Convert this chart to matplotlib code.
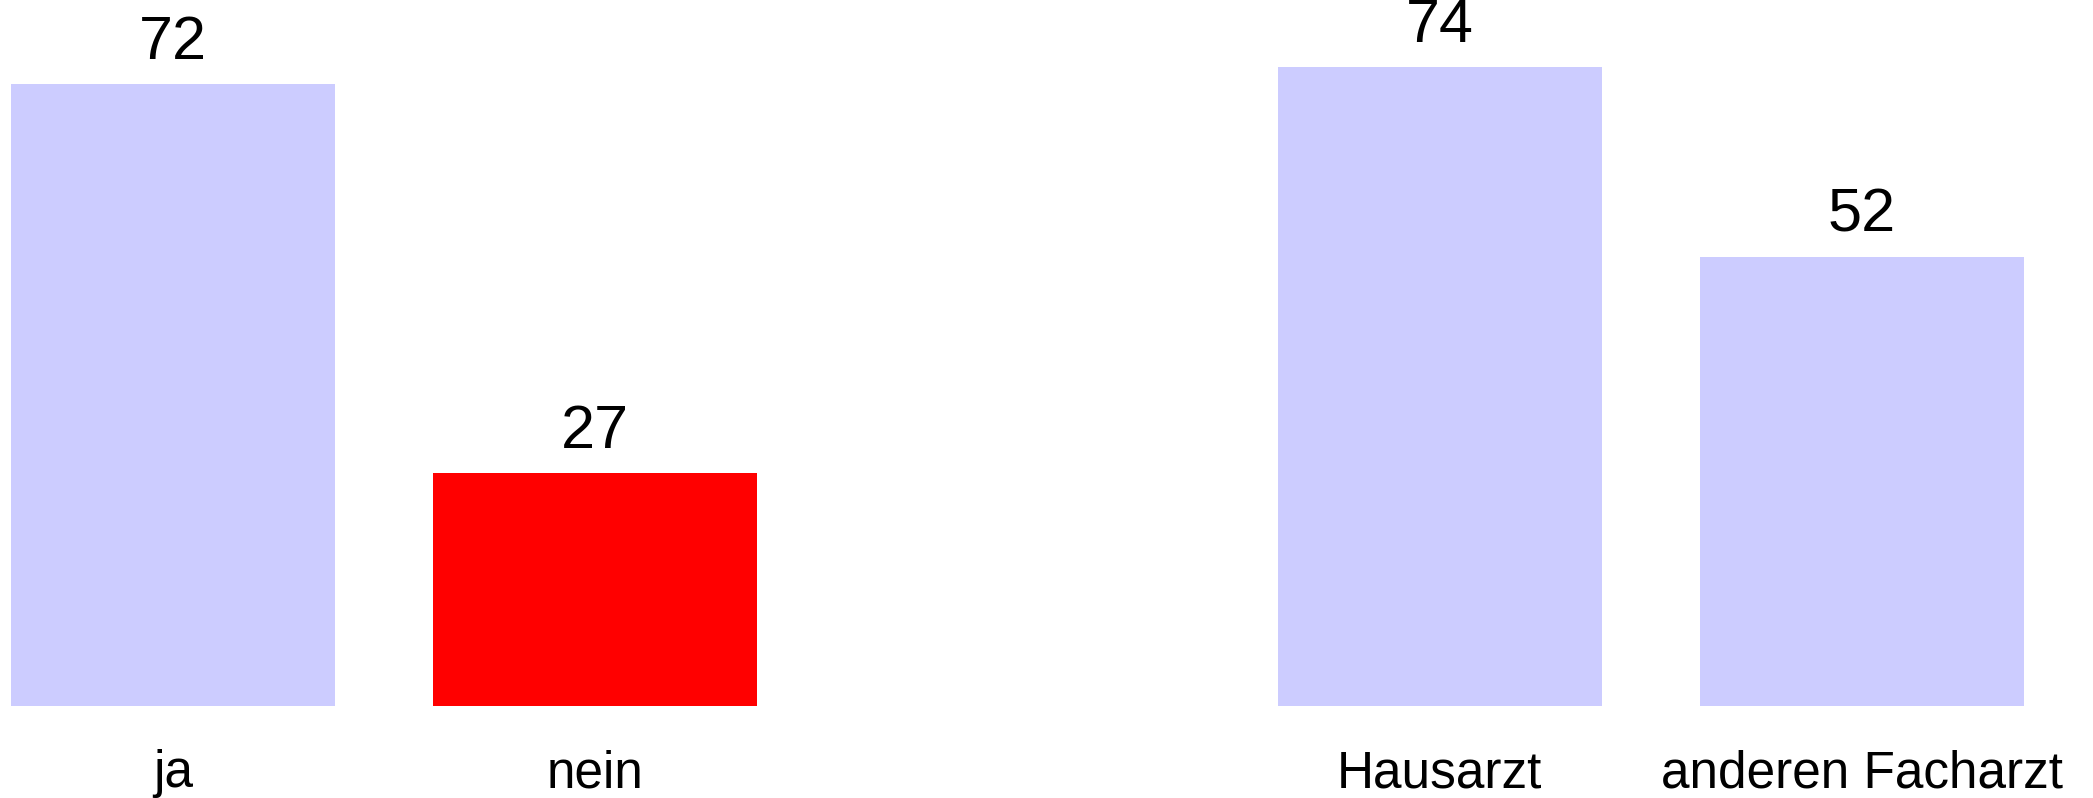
import matplotlib as mpl
mpl.use('Agg')
import matplotlib.pyplot as plt

# two question groups, drawn side by side with an empty slot between them
labels_q1 = ['ja', 'nein']
values_q1 = [72, 27]
labels_q2 = ['Hausarzt', 'anderen Facharzt']
values_q2 = [74, 52]
highlight = 'nein'

plt.rcParams['font.family'] = ['Liberation Sans', 'DejaVu Sans']

fig = plt.figure(figsize=(20.93, 7.98), dpi=100)
ax = fig.add_axes([0, 92 / 798, 1, 706 / 798])

labels = labels_q1 + labels_q2
values = values_q1 + values_q2
pos = list(range(len(labels_q1))) + [len(labels_q1) + 1 + i for i in range(len(labels_q2))]
colors = ['#ff0000' if l == highlight else '#ccccff' for l in labels]

bars = ax.bar(pos, values, width=0.767, color=colors)
for b, v in zip(bars, values):
    ax.annotate(str(v), (b.get_x() + b.get_width() / 2, v), xytext=(0, 8.5),
                textcoords='offset points', ha='center', va='bottom', fontsize=44)

ax.set_xticks(pos)
ax.set_xticklabels(labels, fontsize=37)
ax.tick_params(axis='x', length=0, pad=31)
ax.set_yticks([])
ax.set_xlim(-0.41, 4.547)
ax.set_ylim(0, 81.7)
for s in ax.spines.values():
    s.set_visible(False)

fig.savefig('out.png', dpi=100)
